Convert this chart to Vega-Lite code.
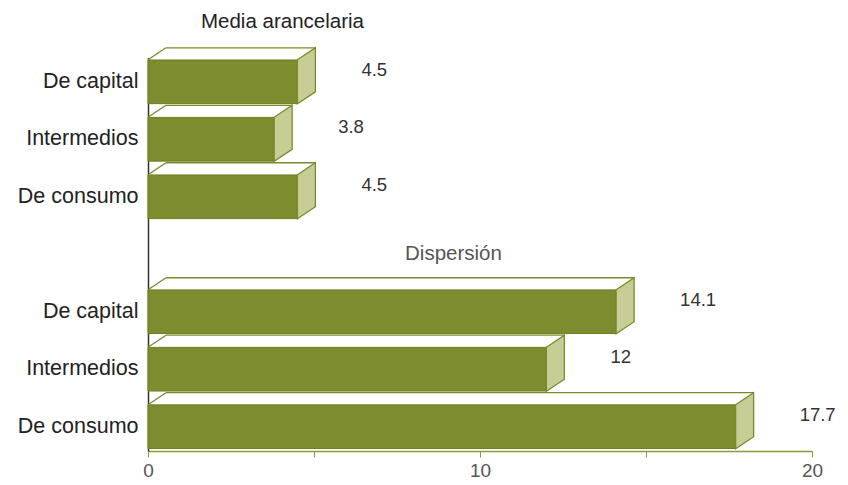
{
  "$schema": "https://vega.github.io/schema/vega-lite/v6.json",
  "width": 664,
  "height": 393.5,
  "autosize": {"type": "none"},
  "padding": {"left": 148, "top": 57.5, "right": 36, "bottom": 34},
  "background": "white",
  "config": {"view": {"stroke": null}, "font": "Liberation Sans"},
  "data": {
    "values": [
      {"fila": "Media arancelaria|De capital", "grupo": "Media arancelaria", "tipo": "De capital", "valor": 4.5},
      {"fila": "Media arancelaria|Intermedios", "grupo": "Media arancelaria", "tipo": "Intermedios", "valor": 3.8},
      {"fila": "Media arancelaria|De consumo", "grupo": "Media arancelaria", "tipo": "De consumo", "valor": 4.5},
      {"fila": "Dispersión|De capital", "grupo": "Dispersión", "tipo": "De capital", "valor": 14.1},
      {"fila": "Dispersión|Intermedios", "grupo": "Dispersión", "tipo": "Intermedios", "valor": 12},
      {"fila": "Dispersión|De consumo", "grupo": "Dispersión", "tipo": "De consumo", "valor": 17.7}
    ]
  },
  "encoding": {
    "y": {
      "field": "fila",
      "type": "nominal",
      "sort": null,
      "scale": {
        "domain": [
          "Media arancelaria|De capital",
          "Media arancelaria|Intermedios",
          "Media arancelaria|De consumo",
          "Dispersión",
          "Dispersión|De capital",
          "Dispersión|Intermedios",
          "Dispersión|De consumo"
        ],
        "paddingInner": 0.24,
        "paddingOuter": 0.043
      },
      "axis": {
        "title": null,
        "ticks": false,
        "labelExpr": "indexof(datum.label, '|') >= 0 ? split(datum.label, '|')[1] : ''",
        "labelFontSize": 21.5,
        "labelColor": "#222222",
        "labelPadding": 10,
        "domainColor": "#333333",
        "domainWidth": 1.5
      }
    },
    "x": {
      "field": "valor",
      "type": "quantitative",
      "scale": {"domain": [0, 20], "nice": false},
      "axis": {
        "title": null,
        "grid": false,
        "values": [0, 5, 10, 15, 20],
        "labelExpr": "datum.value % 10 === 0 ? datum.label : ''",
        "labelFlush": false,
        "labelFontSize": 19,
        "labelColor": "#555555",
        "labelPadding": 4,
        "tickSize": 6,
        "tickColor": "#8a9a3a",
        "domainColor": "#8a9a3a",
        "domainWidth": 1.5
      }
    }
  },
  "layer": [
    {
      "mark": {"type": "bar", "color": "#7d8c2e", "stroke": "#6f7e22", "strokeWidth": 1}
    },
    {
      "mark": {
        "type": "point",
        "shape": "M0,-22L18,-34L18,10L0,22Z",
        "size": 4,
        "filled": true,
        "fill": "#c8cc95",
        "stroke": "#7b8a2b",
        "strokeWidth": 1.3,
        "opacity": 1
      }
    },
    {
      "mark": {
        "type": "point",
        "shape": "M0,-22L18,-34",
        "size": 4,
        "filled": false,
        "stroke": "#7b8a2b",
        "strokeWidth": 1.3,
        "opacity": 1
      },
      "encoding": {"x": {"datum": 0, "type": "quantitative"}}
    },
    {
      "mark": {
        "type": "rule",
        "color": "#7b8a2b",
        "strokeWidth": 1.3,
        "xOffset": 18,
        "x2Offset": 18,
        "yOffset": -34
      },
      "encoding": {
        "x": {"datum": 0, "type": "quantitative"},
        "x2": {"field": "valor"}
      }
    },
    {
      "mark": {"type": "text", "align": "left", "baseline": "middle", "dx": 64, "dy": -12, "fontSize": 18.5, "color": "#333333"},
      "encoding": {
        "text": {"field": "valor", "type": "quantitative"}
      }
    },
    {
      "transform": [{"filter": "datum.fila === 'Media arancelaria|De capital'"}],
      "mark": {"type": "text", "align": "center", "baseline": "middle", "dy": -60, "fontSize": 20.5, "color": "#222222"},
      "encoding": {
        "x": {"datum": 4.05, "type": "quantitative"},
        "text": {"field": "grupo", "type": "nominal"}
      }
    },
    {
      "transform": [{"filter": "datum.fila === 'Dispersión|De capital'"}],
      "mark": {"type": "text", "align": "center", "baseline": "middle", "dy": -57.5, "fontSize": 20.5, "color": "#555555"},
      "encoding": {
        "x": {"datum": 9.2, "type": "quantitative"},
        "text": {"field": "grupo", "type": "nominal"}
      }
    }
  ]
}
